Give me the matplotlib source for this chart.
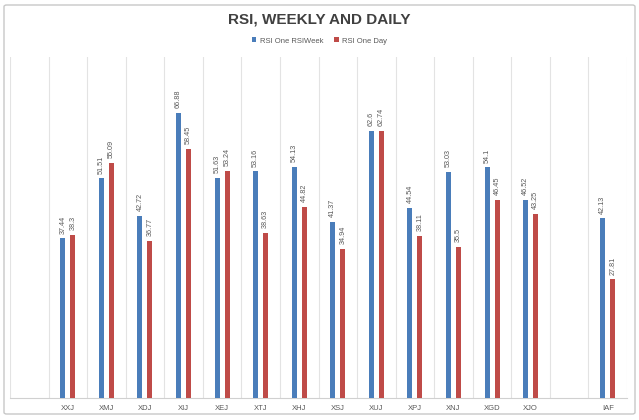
import numpy as np
import matplotlib
matplotlib.use('Agg')
import matplotlib.pyplot as plt
from matplotlib.patches import FancyBboxPatch

# datos (las categorias vacias dejan el hueco)
categorias = ['', 'XXJ', 'XMJ', 'XDJ', 'XIJ', 'XEJ', 'XTJ', 'XHJ', 'XSJ',
              'XUJ', 'XPJ', 'XNJ', 'XGD', 'XJO', '', 'IAF']
rsi_semana = [None, 37.44, 51.51, 42.72, 66.88, 51.63, 53.16, 54.13, 41.37,
              62.6, 44.54, 53.03, 54.1, 46.52, None, 42.13]
rsi_dia = [None, 38.3, 55.09, 36.77, 58.45, 53.24, 38.63, 44.82, 34.94,
           62.74, 38.11, 35.5, 46.45, 43.25, None, 27.81]

nombre_semana = 'RSI One RSIWeek'
nombre_dia = 'RSI One Day'

azul = '#4a7dba'
rojo = '#bf4b48'
gris_texto = '#595959'

plt.rcParams['font.family'] = ['Liberation Sans', 'DejaVu Sans']

fig = plt.figure(figsize=(6.39, 4.2), dpi=100)
ax = fig.add_axes([10 / 639, 22 / 420, 617 / 639, 341 / 420])

x = np.arange(len(categorias))
ancho = 0.13


def dibujar_serie(valores, desplazamiento, color, nombre):
    xs = [xi + desplazamiento for xi, v in zip(x, valores) if v is not None]
    vs = [v for v in valores if v is not None]
    barras = ax.bar(xs, vs, width=ancho, color=color, label=nombre, zorder=3)
    for b, v in zip(barras, vs):
        ax.annotate(f'{v:g}', (b.get_x() + b.get_width() / 2, v),
                    xytext=(0, 3.5), textcoords='offset points',
                    rotation=90, ha='center', va='bottom',
                    fontsize=5.2, color=gris_texto)
    return barras


dibujar_serie(rsi_semana, -0.13, azul, nombre_semana)
dibujar_serie(rsi_dia, 0.13, rojo, nombre_dia)

ax.set_xlim(-0.5, len(categorias) - 0.5)
ax.set_ylim(0, 80)

# lineas verticales entre categorias
for b in np.arange(-0.5, len(categorias) + 0.5, 1):
    ax.axvline(b, color='#e3e3e3', lw=0.8, zorder=1)

ax.set_xticks(x)
ax.set_xticklabels(categorias, fontsize=5.5, color=gris_texto)
ax.tick_params(axis='x', length=0, pad=5)
ax.set_yticks([])
for lado in ['top', 'left', 'right']:
    ax.spines[lado].set_visible(False)
ax.spines['bottom'].set_color('#d0d0d0')
ax.spines['bottom'].set_linewidth(0.8)

fig.text(0.5, 1 - 19 / 420, 'RSI, WEEKLY AND DAILY', ha='center', va='center',
         fontsize=11, fontweight='bold', color='#404040')

ax.legend(loc='center', bbox_to_anchor=(0.5, 1 - 41 / 420), bbox_transform=fig.transFigure,
          ncol=2, frameon=False, fontsize=5.5, labelcolor=gris_texto,
          handlelength=0.6, handleheight=0.6, handletextpad=0.4, columnspacing=1.5)

# marco del grafico
marco = FancyBboxPatch((4 / 639, 6 / 420), 631 / 639, 409 / 420,
                       boxstyle='round,pad=0,rounding_size=0.004',
                       transform=fig.transFigure, fill=False,
                       edgecolor='#c8c8c8', lw=1.0)
fig.patches.append(marco)

fig.savefig('out.png', dpi=100)
